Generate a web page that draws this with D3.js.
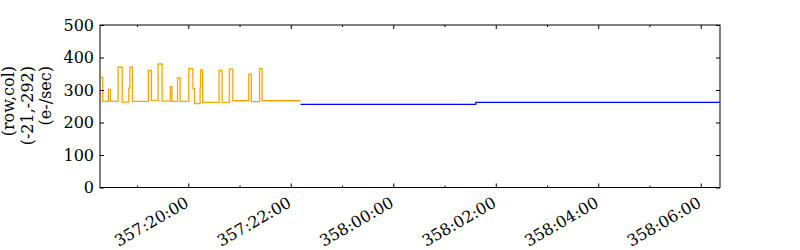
<!DOCTYPE html>
<html>
<head>
<meta charset="utf-8">
<script src="https://cdn.jsdelivr.net/npm/d3@7"></script>
<style>
  body { margin: 0; background: #fff; }
  svg text { font-family: "DejaVu Serif", "Liberation Serif", serif; font-size: 16px; fill: #000; }
</style>
</head>
<body>
<svg id="chart" width="800" height="250"></svg>
<script>
// time axis in hours since day 357 00:00
const xDomain = [18.277, 30.376];
const yDomain = [0, 500];
const majorTicks = [20, 22, 24, 26, 28, 30];
const minorTicks = [19, 21, 23, 25, 27, 29];
const yTicks = [0, 100, 200, 300, 400, 500];
const yLabelLines = ["(row,col)", "(-21,-292)", "(e-/sec)"];

// orange series (step after)
const orangeTimes = [18.29, 18.33, 18.44, 18.48, 18.63, 18.71, 18.84, 18.86, 18.91, 19.22, 19.28, 19.41, 19.49, 19.65, 19.68, 19.79, 19.84, 20.01, 20.09, 20.12, 20.23, 20.24, 20.28, 20.60, 20.66, 20.80, 20.87, 21.18, 21.23, 21.39, 21.44, 22.19];
const orangeValues = [339, 265, 302, 265, 370, 263, 306, 370, 265, 360, 268, 380, 266, 310, 265, 337, 265, 366, 304, 258, 308, 362, 262, 360, 262, 364, 267, 349, 264, 366, 267, 267];

// blue series (step after)
const blueTimes = [22.19, 25.61, 30.38];
const blueValues = [256, 262, 262];

document.addEventListener("DOMContentLoaded", function() {
    const svg = d3.select("#chart");
    const left = 100, right = 720, top = 25, bottom = 187.5;

    const x = d3.scaleLinear().domain(xDomain).range([left, right]);
    const y = d3.scaleLinear().domain(yDomain).range([bottom, top]);

    const fmt = h => {
        const day = 357 + Math.floor(h / 24);
        const hh = String(Math.round(h % 24)).padStart(2, "0");
        return day + ":" + hh + ":00";
    };

    svg.append("clipPath").attr("id", "clip")
        .append("rect").attr("x", left).attr("y", top)
        .attr("width", right - left).attr("height", bottom - top);

    const line = d3.line()
        .x(d => x(d[0]))
        .y(d => y(d[1]))
        .curve(d3.curveStepAfter);

    const plot = svg.append("g").attr("clip-path", "url(#clip)");

    plot.append("path")
        .datum(orangeTimes.map((t, i) => [t, orangeValues[i]]))
        .attr("d", line)
        .attr("fill", "none")
        .attr("stroke", "orange")
        .attr("stroke-width", 1.3);

    plot.append("path")
        .datum(blueTimes.map((t, i) => [t, blueValues[i]]))
        .attr("d", line)
        .attr("fill", "none")
        .attr("stroke", "blue")
        .attr("stroke-width", 1.3);

    // axes: ticks point inwards, on all four sides
    const xMajor = d3.axisBottom(x).tickValues(majorTicks).tickSize(-4).tickFormat("");
    const xMinor = d3.axisBottom(x).tickValues(minorTicks).tickSize(-2).tickFormat("");
    const xMajorTop = d3.axisTop(x).tickValues(majorTicks).tickSize(-4).tickFormat("");
    const xMinorTop = d3.axisTop(x).tickValues(minorTicks).tickSize(-2).tickFormat("");
    const yLeft = d3.axisLeft(y).tickValues(yTicks).tickSize(-4).tickFormat("");
    const yRight = d3.axisRight(y).tickValues(yTicks).tickSize(-4).tickFormat("");

    [[xMajor, `translate(0,${bottom})`], [xMinor, `translate(0,${bottom})`],
     [xMajorTop, `translate(0,${top})`], [xMinorTop, `translate(0,${top})`],
     [yLeft, `translate(${left},0)`], [yRight, `translate(${right},0)`]].forEach(([ax, tr]) => {
        const g = svg.append("g").attr("transform", tr).call(ax);
        g.select(".domain").remove();
        g.selectAll(".tick line").attr("stroke", "#000");
    });

    svg.append("rect")
        .attr("x", left).attr("y", top)
        .attr("width", right - left).attr("height", bottom - top)
        .attr("fill", "none").attr("stroke", "#000").attr("stroke-width", 1);

    // y tick labels
    svg.selectAll("text.ylab")
        .data(yTicks)
        .enter()
        .append("text")
        .attr("class", "ylab")
        .attr("x", left - 6)
        .attr("y", d => y(d))
        .attr("dy", "0.36em")
        .attr("text-anchor", "end")
        .text(d => d);

    // x tick labels, rotated
    svg.selectAll("text.xlab")
        .data(majorTicks)
        .enter()
        .append("text")
        .attr("class", "xlab")
        .attr("text-anchor", "end")
        .attr("transform", d => `translate(${x(d) - 4.5},${bottom + 8}) rotate(-30)`)
        .attr("dy", "0.75em")
        .text(fmt);

    // y axis label, three lines
    const centers = [8.5, 27, 45.5];
    svg.selectAll("text.ytitle")
        .data(yLabelLines)
        .enter()
        .append("text")
        .attr("class", "ytitle")
        .attr("text-anchor", "end")
        .attr("transform", (d, i) => `translate(${centers[i]},66) rotate(-90)`)
        .attr("dy", "0.35em")
        .text(d => d);
});
</script>
</body>
</html>
